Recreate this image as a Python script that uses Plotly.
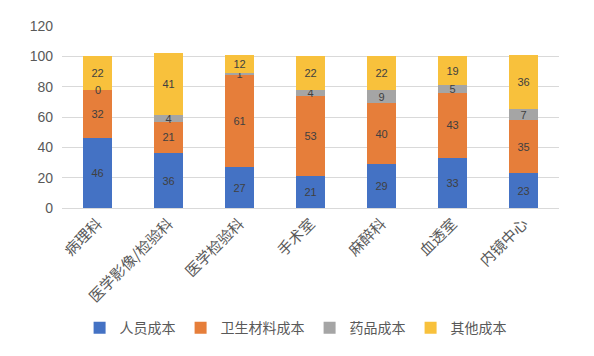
import plotly.graph_objects as go

categories = ["病理科", "医学影像/检验科", "医学检验科", "手术室", "麻醉科", "血透室", "内镜中心"]
personnel = [46, 36, 27, 21, 29, 33, 23]
materials = [32, 21, 61, 53, 40, 43, 35]
drugs = [0, 4, 1, 4, 9, 5, 7]
other = [22, 41, 12, 22, 22, 19, 36]

series = [
    ("人员成本", personnel, "#4472C4"),
    ("卫生材料成本", materials, "#E67E3A"),
    ("药品成本", drugs, "#A5A5A5"),
    ("其他成本", other, "#F8C13C"),
]

FONT = "Liberation Sans, Arial, Noto Sans CJK SC, sans-serif"
CJK = "Noto Sans CJK SC, sans-serif"

fig = go.Figure()
base = [0] * len(categories)
annotations = []
for name, vals, color in series:
    fig.add_trace(go.Bar(
        name=name, x=categories, y=vals, marker_color=color,
        marker_line_width=0,
        text=[str(v) for v in vals], textposition="inside", textangle=0,
        insidetextanchor="middle", constraintext="none",
        textfont=dict(size=11, color="#404040", family=FONT),
    ))
    for i, v in enumerate(vals):
        if v == 0:
            annotations.append(dict(x=categories[i], y=base[i], text="0", showarrow=False,
                                    font=dict(size=11, color="#404040", family=FONT)))
    base = [b + v for b, v in zip(base, vals)]

fig.update_layout(
    barmode="stack",
    bargap=0.6,
    width=586, height=348,
    margin=dict(l=54, r=35, t=18, b=148),
    plot_bgcolor="white", paper_bgcolor="white",
    uniformtext=dict(minsize=11, mode="show"),
    font=dict(family=FONT, color="#595959", size=14),
    annotations=annotations,
    legend=dict(orientation="h", x=0.47, xanchor="center", y=-0.66, yanchor="middle",
                font=dict(family=CJK, size=14, color="#595959"),
                itemwidth=30, traceorder="normal"),
    xaxis=dict(tickangle=-45, tickfont=dict(family=CJK, size=15, color="#595959"),
               showline=True, linecolor="#D9D9D9", ticks="", automargin=False),
    yaxis=dict(range=[0, 120], dtick=20, gridcolor="#D9D9D9", zeroline=False,
               tickfont=dict(size=14, color="#595959"), ticks="", ticklabelstandoff=8,
               automargin=False),
)

fig.write_html("out.html")
